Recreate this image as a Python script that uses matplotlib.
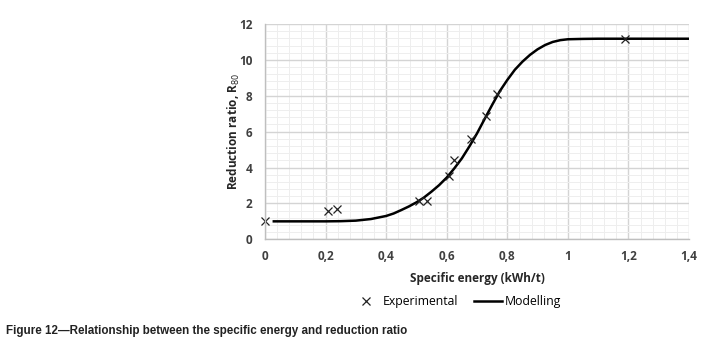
import matplotlib
matplotlib.use("Agg")
import matplotlib.pyplot as plt
from matplotlib.ticker import MultipleLocator, FuncFormatter
from matplotlib.lines import Line2D

# Experimental data
exp_x = [0.0, 0.209, 0.239, 0.51, 0.536, 0.609, 0.625, 0.679, 0.729, 0.765, 1.189]
exp_y = [1.0, 1.6, 1.7, 2.14, 2.12, 3.55, 4.44, 5.57, 6.87, 8.08, 11.15]

# Modelling curve
mod_x = [0.025, 0.1, 0.2, 0.25, 0.3, 0.35, 0.4, 0.425, 0.45, 0.475, 0.5, 0.525, 0.55,
         0.575, 0.6, 0.625, 0.65, 0.675, 0.7, 0.725, 0.75, 0.775, 0.8, 0.825, 0.85,
         0.875, 0.9, 0.925, 0.95, 0.975, 1.0, 1.05, 1.1, 1.2, 1.3, 1.4]
mod_y = [1.0, 1.0, 1.0, 1.01, 1.04, 1.13, 1.3, 1.44, 1.63, 1.83, 2.06, 2.33, 2.66,
         3.02, 3.44, 3.95, 4.51, 5.18, 5.9, 6.7, 7.49, 8.25, 8.88, 9.45, 9.9,
         10.28, 10.59, 10.83, 11.0, 11.1, 11.15, 11.17, 11.18, 11.18, 11.18, 11.18]

x_ticks = [0, 0.2, 0.4, 0.6, 0.8, 1.0, 1.2, 1.4]
y_ticks = [0, 2, 4, 6, 8, 10, 12]

fig = plt.figure(figsize=(7.04, 3.46), dpi=100)
ax = fig.add_axes([0.3764, 0.3084, 0.6023, 0.6222])

ax.set_xlim(0, 1.4)
ax.set_ylim(0, 12)
ax.set_xticks(x_ticks)
ax.set_yticks(y_ticks)
ax.xaxis.set_minor_locator(MultipleLocator(0.04))
ax.yaxis.set_minor_locator(MultipleLocator(0.4))

def fmt(v, pos):
    s = ("%g" % round(v, 2)).replace(".", ",")
    return s
ax.xaxis.set_major_formatter(FuncFormatter(fmt))

ax.grid(which="major", color="#d4d4d4", linewidth=1.0)
ax.grid(which="minor", color="#eeeeee", linewidth=0.7)
ax.set_axisbelow(True)
for s in ["top", "right"]:
    ax.spines[s].set_visible(False)
for s in ["left", "bottom"]:
    ax.spines[s].set_color("#bfbfbf")
    ax.spines[s].set_linewidth(1.0)
ax.tick_params(which="both", length=0)
ax.tick_params(axis="y", pad=9)
ax.tick_params(axis="x", pad=8)
for lab in ax.get_xticklabels() + ax.get_yticklabels():
    lab.set_fontfamily("Open Sans")
    lab.set_fontweight("bold")
    lab.set_fontsize(8.5)
    lab.set_color("#404040")

ax.plot(mod_x, mod_y, color="black", linewidth=1.8, solid_capstyle="butt", clip_on=False)
ax.plot(exp_x, exp_y, linestyle="none", marker="x", markersize=6, color="#222222",
        markeredgewidth=0.9, clip_on=False)

ax.set_xlabel("Specific energy (kWh/t)", fontfamily="Open Sans", fontweight="bold",
              fontsize=8.5, color="#262626", labelpad=6)
ax.set_ylabel("Reduction ratio, R$_{80}$", fontfamily="Open Sans", fontweight="bold",
              fontsize=8.5, color="#262626", labelpad=-2)

handles = [Line2D([], [], linestyle="none", marker="x", color="#222222", markersize=6,
                  markeredgewidth=0.9),
           Line2D([], [], color="black", linewidth=1.8)]
fig.legend(handles, ["Experimental", "Modelling"], loc="center",
           bbox_to_anchor=(0.648, 0.128), ncol=2, frameon=False,
           prop={"family": "Open Sans", "size": 8.8}, handlelength=2.3,
           handletextpad=0.2, columnspacing=1.3)

fig.text(0.009, 0.043, "Figure 12\u2014Relationship between the specific energy and reduction ratio",
         fontfamily="Liberation Sans", fontweight="bold", fontsize=8.4, color="#222222",
         va="center", ha="left")

fig.savefig("out.png", dpi=100)
